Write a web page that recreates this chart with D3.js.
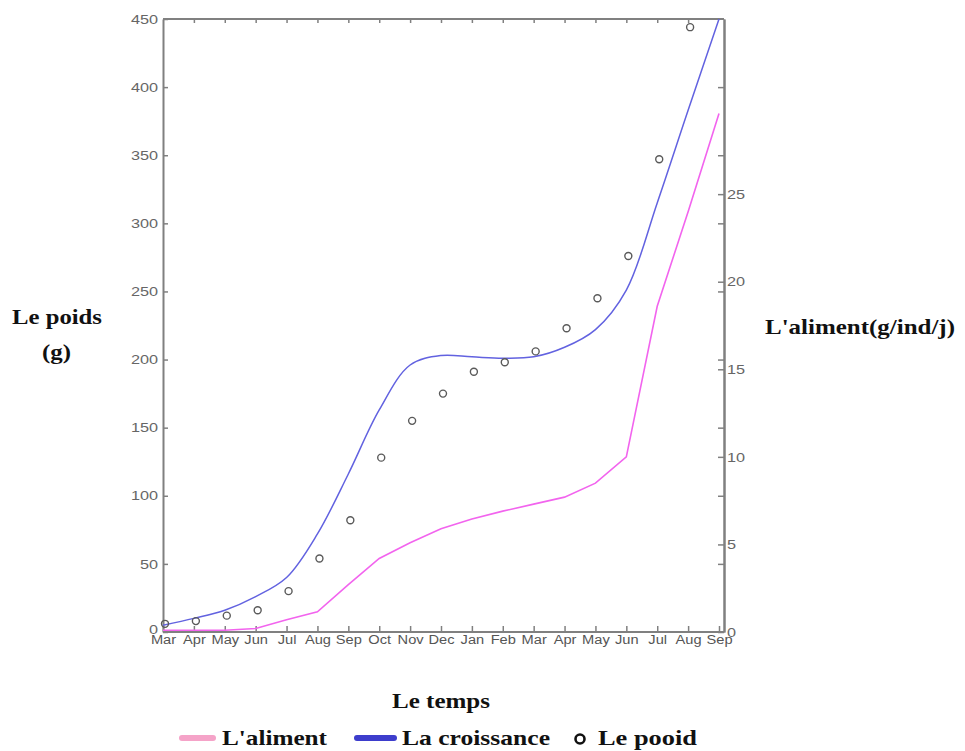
<!DOCTYPE html>
<html>
<head>
<meta charset="utf-8">
<script src="https://cdn.jsdelivr.net/npm/d3@7"></script>
<style>
  body { margin: 0; background: #fff; }
  .tick text { font-family: "Liberation Sans", Arial, sans-serif; fill: #666; }
  .title { font-family: "Liberation Serif", "Times New Roman", serif; font-weight: bold; fill: #111; }
</style>
</head>
<body>
<div id="chart"></div>
<script>
// months on the x axis (Mar of year 1 to Sep of year 2)
var months = ["Mar", "Apr", "May", "Jun", "Jul", "Aug", "Sep", "Oct", "Nov", "Dec",
  "Jan", "Feb", "Mar", "Apr", "May", "Jun", "Jul", "Aug", "Sep"];

// La croissance (g), left axis
var croissance = [5, 10, 16, 26, 40, 72, 116, 163, 196, 203, 202, 201, 202, 209, 222, 251, 315, 383, 450];

// Le pooid (g), observed points, left axis
var pooid = [6, 8, 12, 16, 30, 54, 82, 128, 155, 175, 191, 198, 206, 223, 245, 276, 347, 444];

// L'aliment (g/ind/j), right axis
var aliment = [0.1, 0.1, 0.1, 0.2, 0.7, 1.15, 2.7, 4.2, 5.1, 5.9, 6.45, 6.9, 7.3, 7.7, 8.5, 10.0, 18.6, 24.0, 29.6];

var leftTicks = [0, 50, 100, 150, 200, 250, 300, 350, 400, 450];
var rightTicks = [0, 5, 10, 15, 20, 25];

var width = 965, height = 751;
var plotLeft = 163, plotRight = 724, plotTop = 19, plotBottom = 632;

var svg = d3.select('#chart').append('svg')
  .attr('width', width)
  .attr('height', height);

var x = d3.scaleLinear().domain([0, months.length - 1]).range([plotLeft, 719]);
var yL = d3.scaleLinear().domain([0, 450]).range([plotBottom, plotTop]);
var yR = d3.scaleLinear().domain([0, 35]).range([plotBottom, plotTop]);

// stretch text horizontally like the original picture
function stretch(sel, k) {
  sel.each(function() {
    var w = this.getComputedTextLength();
    d3.select(this).attr('textLength', w * k).attr('lengthAdjust', 'spacingAndGlyphs');
  });
}

function styleAxis(g) {
  g.selectAll('.domain').attr('stroke', '#808080').attr('stroke-width', 2);
  g.selectAll('.tick line').attr('stroke', '#808080').attr('stroke-width', 1.5);
}

// bottom axis
var gx = svg.append('g')
  .attr('transform', 'translate(0,' + plotBottom + ')')
  .call(d3.axisBottom(x)
    .tickValues(d3.range(months.length))
    .tickFormat(function(i) { return months[i]; })
    .tickSizeInner(-6).tickSizeOuter(0).tickPadding(3));
gx.selectAll('.domain').attr('d', 'M' + plotLeft + ',0H' + plotRight);
gx.selectAll('text').style('font-size', '12px').style('fill', '#555');
styleAxis(gx);
stretch(gx.selectAll('text'), 1.22);

// top frame
var gt = svg.append('g')
  .attr('transform', 'translate(0,' + plotTop + ')')
  .call(d3.axisTop(x).tickValues(d3.range(1, months.length - 1))
    .tickFormat('').tickSizeInner(-4).tickSizeOuter(0));
gt.selectAll('.domain').attr('d', 'M' + plotLeft + ',0H' + plotRight);
styleAxis(gt);

// left axis
var gl = svg.append('g')
  .attr('transform', 'translate(' + plotLeft + ',0)')
  .call(d3.axisLeft(yL).tickValues(leftTicks).tickSizeInner(-5).tickSizeOuter(0).tickPadding(5));
gl.selectAll('text').style('font-size', '13px');
gl.selectAll('.tick').filter(function(d) { return d === 0; }).select('text').attr('dy', '0.1em');
styleAxis(gl);
stretch(gl.selectAll('text'), 1.25);

// right axis: left-scale ticks (no labels) and right-scale labels
var gr1 = svg.append('g')
  .attr('transform', 'translate(' + plotRight + ',0)')
  .call(d3.axisRight(yL).tickValues(leftTicks.slice(1, -1)).tickFormat('').tickSizeInner(-6).tickSizeOuter(0));
styleAxis(gr1);
var gr = svg.append('g')
  .attr('transform', 'translate(' + plotRight + ',0)')
  .call(d3.axisRight(yR).tickValues(rightTicks).tickSizeInner(-6).tickSizeOuter(0).tickPadding(3));
gr.selectAll('text').style('font-size', '13px');
styleAxis(gr);
stretch(gr.selectAll('text'), 1.25);

// lines
var lineBlue = d3.line()
  .x(function(d, i) { return x(i); })
  .y(function(d) { return yL(d); })
  .curve(d3.curveCatmullRom.alpha(0.5));

var linePink = d3.line()
  .x(function(d, i) { return x(i); })
  .y(function(d) { return yR(d); });

svg.append('path').datum(aliment)
  .attr('d', linePink)
  .attr('fill', 'none')
  .attr('stroke', '#f264ee')
  .attr('stroke-width', 1.6);

svg.append('path').datum(croissance)
  .attr('d', lineBlue)
  .attr('fill', 'none')
  .attr('stroke', '#6262e0')
  .attr('stroke-width', 1.5);

svg.selectAll('.pt').data(pooid).enter()
  .append('circle')
  .attr('class', 'pt')
  .attr('cx', function(d, i) { return x(i) + 2; })
  .attr('cy', function(d) { return yL(d); })
  .attr('r', 3.5)
  .attr('fill', 'none')
  .attr('stroke', '#5a5a5a')
  .attr('stroke-width', 1.4);

// axis titles
function title(tx, ty, txt, size, w, anchor) {
  return svg.append('text').attr('class', 'title')
    .attr('x', tx).attr('y', ty)
    .attr('text-anchor', anchor || 'start')
    .style('font-size', size + 'px')
    .attr('textLength', w).attr('lengthAdjust', 'spacingAndGlyphs')
    .text(txt);
}
title(12, 324, 'Le poids', 21, 90);
title(42, 359, '(g)', 21, 29);
title(765, 334, "L'aliment(g/ind/j)", 21, 190);
title(392, 708, 'Le temps', 21, 98);

// legend
var legend = [
  {label: "L'aliment", color: '#f5a3c8', type: 'line', x1: 182, x2: 213, tx: 222, w: 105},
  {label: 'La croissance', color: '#3d3dcc', type: 'line', x1: 357, x2: 394, tx: 402, w: 148},
  {label: 'Le pooid', color: '#111', type: 'circle', x1: 580, x2: 580, tx: 598, w: 99}
];
var lg = svg.selectAll('.legend').data(legend).enter().append('g').attr('class', 'legend');
lg.filter(function(d) { return d.type === 'line'; }).append('line')
  .attr('x1', function(d) { return d.x1; }).attr('x2', function(d) { return d.x2; })
  .attr('y1', 738).attr('y2', 738)
  .attr('stroke', function(d) { return d.color; })
  .attr('stroke-width', 6).attr('stroke-linecap', 'round');
lg.filter(function(d) { return d.type === 'circle'; }).append('circle')
  .attr('cx', function(d) { return d.x1; }).attr('cy', 739).attr('r', 4.5)
  .attr('fill', 'none').attr('stroke', '#111').attr('stroke-width', 2.6);
lg.append('text').attr('class', 'title')
  .attr('x', function(d) { return d.tx; }).attr('y', 745)
  .style('font-size', '21px')
  .attr('textLength', function(d) { return d.w; }).attr('lengthAdjust', 'spacingAndGlyphs')
  .text(function(d) { return d.label; });
</script>
</body>
</html>
